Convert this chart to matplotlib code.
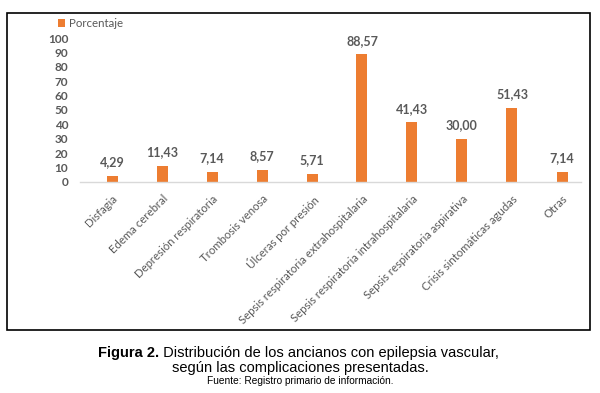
import matplotlib
matplotlib.use("Agg")
import matplotlib.pyplot as plt
from matplotlib.patches import Rectangle
from matplotlib.transforms import ScaledTranslation

categories = ["Disfagia", "Edema cerebral", "Depresión respiratoria", "Trombosis venosa",
              "Úlceras por presión", "Sepsis respiratoria extrahospitalaria",
              "Sepsis respiratoria intrahospitalaria", "Sepsis respiratoria aspirativa",
              "Crisis sintomáticas agudas", "Otras"]
values = [4.29, 11.43, 7.14, 8.57, 5.71, 88.57, 41.43, 30.00, 51.43, 7.14]
yticks = [0, 10, 20, 30, 40, 50, 60, 70, 80, 90, 100]
series_name = "Porcentaje"

ORANGE = "#ED7D31"
GRAY = "#595959"
FONT = ["Lato", "DejaVu Sans"]
CAP = ["Liberation Sans", "DejaVu Sans"]

fig = plt.figure(figsize=(6.0, 3.93), dpi=100)
W, H = 600, 393

# outer frame
fig.patches.append(Rectangle((7 / W, 1 - 330 / H), 583 / W, 317 / H, transform=fig.transFigure,
                             fill=False, edgecolor="black", linewidth=1.2))

ax = fig.add_axes([80 / W, 1 - 182 / H, 501 / W, 144 / H])
x = list(range(len(categories)))
ax.bar(x, values, width=0.22, color=ORANGE, zorder=2, label=series_name)
ax.set_xlim(-0.64, 9.38)
ax.set_ylim(0, 100)
ax.set_yticks(yticks)
ax.set_yticklabels([str(t) for t in yticks], fontfamily=FONT, fontsize=8.5, fontweight="bold", color=GRAY)
ax.set_xticks(x)
ax.set_xticklabels(categories, rotation=45, ha="right", rotation_mode="anchor",
                   fontfamily=FONT, fontsize=8.2, color=GRAY)
shift = ScaledTranslation(-6 / 100, 0, fig.dpi_scale_trans)
for lbl in ax.get_xticklabels():
    lbl.set_transform(lbl.get_transform() + shift)
ax.tick_params(axis="both", length=0)
ax.tick_params(axis="y", pad=8.5)
ax.tick_params(axis="x", pad=8)
for s in ["top", "right", "left"]:
    ax.spines[s].set_visible(False)
ax.spines["bottom"].set_color("#D9D9D9")
ax.spines["bottom"].set_linewidth(1)

for xi, v in zip(x, values):
    ax.annotate(f"{v:.2f}".replace(".", ","), (xi, v), xytext=(0, 5.5), textcoords="offset points",
                ha="center", va="bottom", fontfamily=FONT, fontsize=9, fontweight="bold", color=GRAY)

leg = ax.legend(loc="upper left", bbox_to_anchor=(58 / W, 1 - 18 / H), bbox_transform=fig.transFigure,
                frameon=False, handlelength=0.65, handleheight=0.65, handletextpad=0.3,
                prop={"family": FONT, "size": 8.3}, borderaxespad=0, borderpad=0)
for t in leg.get_texts():
    t.set_color(GRAY)

# caption
t1 = fig.text(98 / W, 1 - 360 / H, "Figura 2.", fontfamily=CAP, fontsize=10.5, fontweight="bold",
              ha="left", va="bottom")
fig.canvas.draw()
ax.annotate(" Distribución de los ancianos con epilepsia vascular,", xy=(1, 0), xycoords=t1,
            ha="left", va="bottom", fontfamily=CAP, fontsize=10.5, annotation_clip=False)
fig.text(0.5, 1 - 375 / H, "según las complicaciones presentadas.", fontfamily=CAP, fontsize=10.5,
         ha="center", va="bottom")
fig.text(0.5, 1 - 386 / H, "Fuente: Registro primario de información.", fontfamily=CAP, fontsize=7.3,
         ha="center", va="bottom")

fig.savefig("out.png", dpi=100)
